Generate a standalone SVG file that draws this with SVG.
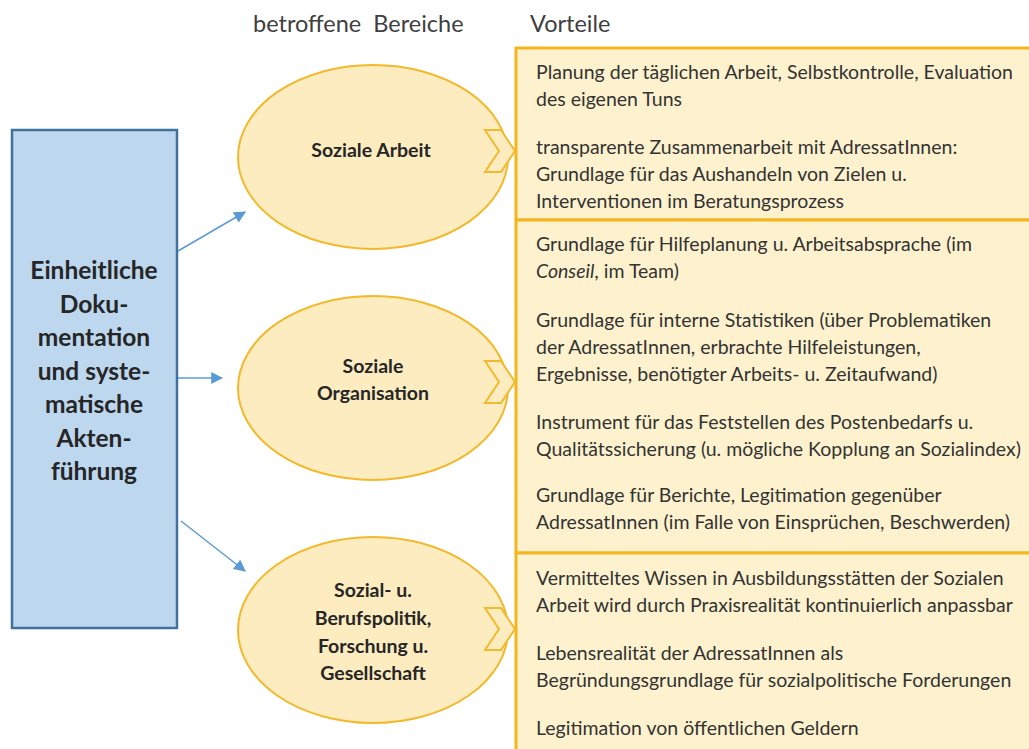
<svg xmlns="http://www.w3.org/2000/svg" width="1029" height="749" viewBox="0 0 1029 749">
<defs>
<style>
.hdr{font-family:Lato,"Liberation Sans",sans-serif;font-size:23.5px;fill:#404040;white-space:pre}
.txt{font-family:Lato,"Liberation Sans",sans-serif;font-size:19.5px;fill:#333333}
.bold{font-family:Lato,"Liberation Sans",sans-serif;font-weight:bold;fill:#262626;text-anchor:middle}
.ell{fill:#FDECC0;stroke:#F2B92C;stroke-width:2}
.chev{fill:#FDECC0;stroke:#F2B92C;stroke-width:2;stroke-linejoin:miter}
.box{fill:#FEF2CE;stroke:#F4B61F;stroke-width:3}
.conn{stroke:#5B9BD5;stroke-width:1.5;fill:none}
</style>
<marker id="arr" viewBox="0 0 10 10" refX="9" refY="5" markerWidth="12" markerHeight="12" markerUnits="userSpaceOnUse" orient="auto">
<path d="M0,0 L10,5 L0,10 Z" fill="#5B9BD5"/>
</marker>
</defs>
<rect width="1029" height="749" fill="#ffffff"/>

<text class="hdr" x="253" y="32" xml:space="preserve">betroffene  Bereiche</text>
<text class="hdr" x="530" y="32">Vorteile</text>

<g id="box1">
<rect class="box" x="516" y="48" width="520" height="172"/>
<text class="txt" x="536" y="79">Planung der täglichen Arbeit, Selbstkontrolle, Evaluation</text>
<text class="txt" x="536" y="106">des eigenen Tuns</text>
<text class="txt" x="536" y="154">transparente Zusammenarbeit mit AdressatInnen:</text>
<text class="txt" x="536" y="181">Grundlage für das Aushandeln von Zielen u.</text>
<text class="txt" x="536" y="208">Interventionen im Beratungsprozess</text>
</g>
<g id="box2">
<rect class="box" x="516" y="220" width="520" height="333"/>
<text class="txt" x="536" y="251">Grundlage für Hilfeplanung u. Arbeitsabsprache (im</text>
<text class="txt" x="536" y="278"><tspan font-style="italic">Conseil</tspan>, im Team)</text>
<text class="txt" x="536" y="327">Grundlage für interne Statistiken (über Problematiken</text>
<text class="txt" x="536" y="354">der AdressatInnen, erbrachte Hilfeleistungen,</text>
<text class="txt" x="536" y="381">Ergebnisse, benötigter Arbeits- u. Zeitaufwand)</text>
<text class="txt" x="536" y="429">Instrument für das Feststellen des Postenbedarfs u.</text>
<text class="txt" x="536" y="456">Qualitätssicherung (u. mögliche Kopplung an Sozialindex)</text>
<text class="txt" x="536" y="502">Grundlage für Berichte, Legitimation gegenüber</text>
<text class="txt" x="536" y="529">AdressatInnen (im Falle von Einsprüchen, Beschwerden)</text>
</g>
<g id="box3">
<rect class="box" x="516" y="553" width="520" height="210"/>
<text class="txt" x="536" y="585">Vermitteltes Wissen in Ausbildungsstätten der Sozialen</text>
<text class="txt" x="536" y="612">Arbeit wird durch Praxisrealität kontinuierlich anpassbar</text>
<text class="txt" x="536" y="660">Lebensrealität der AdressatInnen als</text>
<text class="txt" x="536" y="687">Begründungsgrundlage für sozialpolitische Forderungen</text>
<text class="txt" x="536" y="735">Legitimation von öffentlichen Geldern</text>
</g>

<g id="main">
<rect x="12" y="130" width="165" height="498" fill="#BDD7EE" stroke="#41719C" stroke-width="2.5"/>
<g class="bold" font-size="24.5">
<text x="94" y="279">Einheitliche</text>
<text x="94" y="313">Doku-</text>
<text x="94" y="346">mentation</text>
<text x="94" y="380">und syste-</text>
<text x="94" y="413">matische</text>
<text x="94" y="447">Akten-</text>
<text x="94" y="480">führung</text>
</g>
</g>

<g id="ell1">
<ellipse class="ell" cx="373" cy="157" rx="135" ry="92"/>
<path class="chev" d="M485,130 L501,130 L515,151 L501,172 L485,172 L499,151 Z"/>
<text class="bold" font-size="19.5" x="371" y="157">Soziale Arbeit</text>
</g>
<g id="ell2">
<ellipse class="ell" cx="373" cy="388" rx="135" ry="92"/>
<path class="chev" d="M485,361 L501,361 L515,382 L501,403 L485,403 L499,382 Z"/>
<text class="bold" font-size="19.5" x="373" y="373">Soziale</text>
<text class="bold" font-size="19.5" x="373" y="400">Organisation</text>
</g>
<g id="ell3">
<ellipse class="ell" cx="373" cy="630" rx="135" ry="93"/>
<path class="chev" d="M485,608 L501,608 L515,629 L501,650 L485,650 L499,629 Z"/>
<text class="bold" font-size="19.5" x="373" y="597">Sozial- u.</text>
<text class="bold" font-size="19.5" x="373" y="625">Berufspolitik,</text>
<text class="bold" font-size="19.5" x="373" y="653">Forschung u.</text>
<text class="bold" font-size="19.5" x="373" y="680">Gesellschaft</text>
</g>

<g id="connectors">
<line class="conn" x1="178" y1="251" x2="245" y2="212" marker-end="url(#arr)"/>
<line class="conn" x1="178" y1="378" x2="222" y2="378" marker-end="url(#arr)"/>
<line class="conn" x1="181" y1="521" x2="245" y2="571" marker-end="url(#arr)"/>
</g>
</svg>
